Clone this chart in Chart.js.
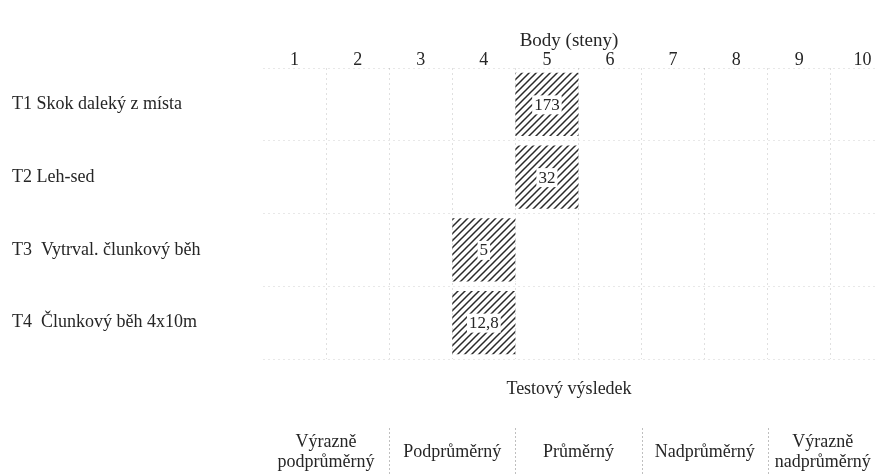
<!DOCTYPE html>
<html>
<head>
<meta charset="utf-8">
<script src="https://cdn.jsdelivr.net/npm/chart.js@4.4.1/dist/chart.umd.min.js"></script>
<style>
  html, body { margin: 0; padding: 0; background: #fff; }
  #wrap { width: 875px; height: 475px; }
</style>
</head>
<body>
<div id="wrap"><canvas id="chart" width="875" height="475"></canvas></div>
<script>
// test rows, sten reached and the raw test result shown in the cell
const tests = ['T1 Skok daleký z místa', 'T2 Leh-sed', 'T3  Vytrval. člunkový běh', 'T4  Člunkový běh 4x10m'];
const stens = [5, 5, 4, 4];
const results = ['173', '32', '5', '12,8'];
const stenTicks = [1, 2, 3, 4, 5, 6, 7, 8, 9, 10];
// each level covers two stens
const levels = [['Výrazně', 'podprůměrný'], ['Podprůměrný'], ['Průměrný'], ['Nadprůměrný'], ['Výrazně', 'nadprůměrný']];

const ink = '#262626';
const serif = "'Liberation Serif', 'DejaVu Serif', serif";

// diagonal hatch fill like the printed chart
function hatch() {
    const c = document.createElement('canvas');
    c.width = 7; c.height = 7;
    const g = c.getContext('2d');
    g.strokeStyle = '#2a2a2a';
    g.lineWidth = 1.5;
    g.beginPath();
    g.moveTo(-1, 8); g.lineTo(8, -1);
    g.moveTo(-1, 1); g.lineTo(1, -1);
    g.moveTo(6, 8); g.lineTo(8, 6);
    g.stroke();
    return g.createPattern(c, 'repeat');
}

const cellLabels = {
    id: 'cellLabels',
    afterDatasetsDraw(chart) {
        const ctx = chart.ctx;
        const meta = chart.getDatasetMeta(0);
        ctx.save();
        ctx.font = '17px ' + serif;
        ctx.textAlign = 'center';
        ctx.textBaseline = 'middle';
        meta.data.forEach((bar, i) => {
            const p = bar.getProps(['x', 'y', 'base'], true);
            const cx = (p.x + p.base) / 2;
            const w = ctx.measureText(results[i]).width;
            ctx.fillStyle = '#fff';
            ctx.fillRect(cx - w / 2 - 2, p.y - 9, w + 4, 19);
            ctx.fillStyle = ink;
            ctx.fillText(results[i], cx, p.y + 1);
        });
        ctx.restore();
    }
};

// bottom legend: "Testový výsledek" and the five level boxes under the sten pairs
const levelBand = {
    id: 'levelBand',
    afterDraw(chart) {
        const ctx = chart.ctx;
        const x = chart.scales.x;
        const area = chart.chartArea;
        ctx.save();
        ctx.fillStyle = ink;
        ctx.textAlign = 'center';
        ctx.textBaseline = 'middle';
        ctx.font = '18px ' + serif;
        ctx.fillText('Testový výsledek', (area.left + area.right) / 2, 389);

        levels.forEach((lines, i) => {
            const from = x.getPixelForValue(2 * i + 0.5);
            const to = Math.min(x.getPixelForValue(2 * i + 2.5), area.right);
            let cx = (from + to) / 2;
            if (i === levels.length - 1) cx = x.getPixelForValue(2 * i + 1.5) - 8;
            if (lines.length === 1) {
                ctx.fillText(lines[0], cx, 452);
            } else {
                ctx.fillText(lines[0], cx, 442);
                ctx.fillText(lines[1], cx, 462);
            }
        });
        ctx.strokeStyle = 'rgba(0,0,0,0.25)';
        ctx.setLineDash([2, 2]);
        ctx.lineWidth = 1;
        for (let i = 1; i < levels.length; i++) {
            const px = Math.round(x.getPixelForValue(2 * i + 0.5)) + 0.5;
            ctx.beginPath();
            ctx.moveTo(px, 428);
            ctx.lineTo(px, 475);
            ctx.stroke();
        }
        ctx.restore();
    }
};

new Chart(document.getElementById('chart'), {
    type: 'bar',
    data: {
        labels: tests,
        datasets: [{
            data: stens.map(s => [s - 0.5, s + 0.5]),
            backgroundColor: hatch(),
            borderWidth: 0,
            barPercentage: 0.87,
            categoryPercentage: 1
        }]
    },
    options: {
        responsive: false,
        animation: false,
        indexAxis: 'y',
        layout: { padding: { top: 27, left: 12, right: 0, bottom: 116 } },
        plugins: { legend: { display: false }, tooltip: { enabled: false } },
        scales: {
            x: {
                type: 'linear',
                position: 'top',
                min: 0.5,
                max: 10.2,
                afterBuildTicks: s => { s.ticks = stenTicks.map(v => ({ value: v })); },
                afterFit: s => { s.height = 41; },
                grid: { display: false },
                border: { display: false },
                ticks: { color: ink, padding: -11, font: { family: serif, size: 18 } },
                title: {
                    display: true,
                    text: 'Body (steny)',
                    color: ink,
                    padding: { top: 3, bottom: 0 },
                    font: { family: serif, size: 19 }
                }
            },
            x2: {
                type: 'linear',
                position: 'bottom',
                min: 0.5,
                max: 10.2,
                afterBuildTicks: s => { s.ticks = stenTicks.slice(0, 9).map(v => ({ value: v + 0.5 })); },
                afterFit: s => { s.height = 0; },
                ticks: { display: false },
                border: { display: false, dash: [2, 3] },
                grid: { color: 'rgba(0,0,0,0.12)', drawTicks: false, lineWidth: 1 }
            },
            y: {
                afterFit: s => { s.width = 251; },
                border: { display: false, dash: [2, 3] },
                grid: { offset: true, color: 'rgba(0,0,0,0.09)', drawTicks: false },
                ticks: { color: ink, crossAlign: 'far', padding: 0, font: { family: serif, size: 18 } }
            }
        }
    },
    plugins: [cellLabels, levelBand]
});
</script>
</body>
</html>
